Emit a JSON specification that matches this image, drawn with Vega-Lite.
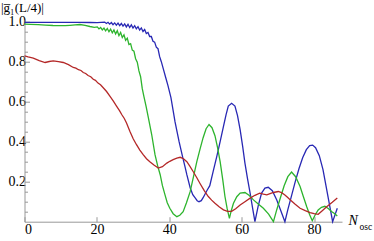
{
"$schema":"https://vega.github.io/schema/vega-lite/v6.json",
"width":317.5,"height":202,"autosize":"none",
"padding":{"left":24.5,"top":19.7,"right":32,"bottom":19.3},
"config":{"view":{"stroke":null},"font":"Liberation Serif"},
"datasets":{
"b":[{"x":0,"y":0.997},{"x":4.8,"y":0.997},{"x":9.9,"y":0.997},{"x":15,"y":0.997},{"x":18.1,"y":0.996},{"x":20.1,"y":0.995},{"x":22.15,"y":0.998},{"x":22.61,"y":0.991},{"x":23.07,"y":0.997},{"x":23.53,"y":0.988},{"x":23.99,"y":0.996},{"x":24.45,"y":0.985},{"x":24.91,"y":0.994},{"x":25.37,"y":0.983},{"x":25.83,"y":0.993},{"x":26.29,"y":0.980},{"x":26.75,"y":0.991},{"x":27.21,"y":0.978},{"x":27.67,"y":0.989},{"x":28.13,"y":0.974},{"x":28.59,"y":0.987},{"x":29.05,"y":0.971},{"x":29.51,"y":0.984},{"x":29.97,"y":0.968},{"x":30.43,"y":0.980},{"x":30.89,"y":0.964},{"x":31.35,"y":0.975},{"x":31.81,"y":0.958},{"x":32.27,"y":0.969},{"x":32.73,"y":0.951},{"x":33.19,"y":0.961},{"x":33.65,"y":0.941},{"x":34.11,"y":0.946},{"x":34.57,"y":0.926},{"x":35.03,"y":0.926},{"x":35.49,"y":0.902},{"x":35.95,"y":0.898},{"x":36.41,"y":0.873},{"x":36.87,"y":0.865},{"x":37.33,"y":0.825},{"x":37.79,"y":0.80},{"x":38.4,"y":0.76},{"x":39.02,"y":0.72},{"x":39.63,"y":0.68},{"x":40.45,"y":0.62},{"x":41.06,"y":0.555},{"x":41.57,"y":0.50},{"x":42.19,"y":0.445},{"x":42.7,"y":0.40},{"x":43.21,"y":0.36},{"x":43.72,"y":0.32},{"x":44.33,"y":0.275},{"x":44.84,"y":0.235},{"x":45.76,"y":0.17},{"x":46.48,"y":0.135},{"x":47.09,"y":0.12},{"x":47.7,"y":0.105},{"x":48.2,"y":0.10},{"x":48.83,"y":0.105},{"x":49.34,"y":0.12},{"x":50.36,"y":0.155},{"x":51.18,"y":0.18},{"x":52.1,"y":0.25},{"x":53.12,"y":0.327},{"x":54.04,"y":0.40},{"x":54.96,"y":0.477},{"x":55.68,"y":0.535},{"x":56.29,"y":0.578},{"x":57.21,"y":0.592},{"x":58.13,"y":0.578},{"x":58.84,"y":0.53},{"x":59.56,"y":0.46},{"x":60.27,"y":0.375},{"x":60.89,"y":0.293},{"x":61.6,"y":0.215},{"x":62.32,"y":0.143},{"x":63.03,"y":0.065},{"x":63.65,"y":0},{"x":64.57,"y":0.08},{"x":65.49,"y":0.143},{"x":66.41,"y":0.168},{"x":67.33,"y":0.172},{"x":68.45,"y":0.155},{"x":69.68,"y":0.109},{"x":70.8,"y":0.055},{"x":71.93,"y":0},{"x":72.74,"y":0.06},{"x":73.77,"y":0.13},{"x":74.79,"y":0.2},{"x":75.81,"y":0.265},{"x":76.83,"y":0.32},{"x":77.85,"y":0.36},{"x":78.77,"y":0.38},{"x":79.59,"y":0.383},{"x":80.4,"y":0.37},{"x":81.43,"y":0.33},{"x":82.45,"y":0.26},{"x":83.27,"y":0.18},{"x":84.19,"y":0.09},{"x":85.11,"y":0},{"x":86.4,"y":0.067}],
"g":[{"x":0,"y":0.988},{"x":1.7,"y":0.987},{"x":3.76,"y":0.985},{"x":5.8,"y":0.983},{"x":7.85,"y":0.981},{"x":9.79,"y":0.98},{"x":11.22,"y":0.98},{"x":12.55,"y":0.982},{"x":13.98,"y":0.984},{"x":15.31,"y":0.986},{"x":16.74,"y":0.982},{"x":18.07,"y":0.976},{"x":19.29,"y":0.972},{"x":20.11,"y":0.974},{"x":20.57,"y":0.964},{"x":21.03,"y":0.971},{"x":21.49,"y":0.959},{"x":21.95,"y":0.968},{"x":22.41,"y":0.954},{"x":22.87,"y":0.966},{"x":23.33,"y":0.950},{"x":23.79,"y":0.963},{"x":24.25,"y":0.944},{"x":24.71,"y":0.959},{"x":25.17,"y":0.939},{"x":25.63,"y":0.955},{"x":26.09,"y":0.930},{"x":26.55,"y":0.946},{"x":27.01,"y":0.921},{"x":27.47,"y":0.934},{"x":27.93,"y":0.907},{"x":28.39,"y":0.918},{"x":28.85,"y":0.886},{"x":29.31,"y":0.890},{"x":29.77,"y":0.858},{"x":30.23,"y":0.853},{"x":30.69,"y":0.815},{"x":31.15,"y":0.798},{"x":31.61,"y":0.754},{"x":32.07,"y":0.725},{"x":32.53,"y":0.665},{"x":32.99,"y":0.625},{"x":33.6,"y":0.575},{"x":34.21,"y":0.52},{"x":35.13,"y":0.436},{"x":36.05,"y":0.335},{"x":36.77,"y":0.28},{"x":37.48,"y":0.235},{"x":38.1,"y":0.18},{"x":38.81,"y":0.134},{"x":39.43,"y":0.095},{"x":40.14,"y":0.067},{"x":41.06,"y":0.04},{"x":42.08,"y":0.025},{"x":42.9,"y":0.032},{"x":43.82,"y":0.05},{"x":44.74,"y":0.095},{"x":45.76,"y":0.15},{"x":46.68,"y":0.225},{"x":47.6,"y":0.30},{"x":48.52,"y":0.365},{"x":49.34,"y":0.42},{"x":50.16,"y":0.465},{"x":50.97,"y":0.486},{"x":51.79,"y":0.47},{"x":52.61,"y":0.43},{"x":53.33,"y":0.37},{"x":54.04,"y":0.30},{"x":54.76,"y":0.21},{"x":55.37,"y":0.126},{"x":55.98,"y":0.065},{"x":56.6,"y":0.017},{"x":57.11,"y":0.055},{"x":57.72,"y":0.092},{"x":58.64,"y":0.125},{"x":59.56,"y":0.143},{"x":60.89,"y":0.146},{"x":62.01,"y":0.132},{"x":63.24,"y":0.109},{"x":64.57,"y":0.088},{"x":65.98,"y":0.067},{"x":67.43,"y":0.038},{"x":68.76,"y":0},{"x":69.68,"y":0.06},{"x":70.6,"y":0.115},{"x":71.72,"y":0.18},{"x":72.74,"y":0.225},{"x":73.77,"y":0.248},{"x":74.89,"y":0.225},{"x":76.12,"y":0.176},{"x":77.04,"y":0.125},{"x":77.96,"y":0.075},{"x":78.77,"y":0.035},{"x":79.49,"y":0.005},{"x":80.31,"y":0.035},{"x":81.12,"y":0.059},{"x":82.04,"y":0.072},{"x":82.96,"y":0.077},{"x":83.98,"y":0.065},{"x":84.9,"y":0.05},{"x":85.72,"y":0.04},{"x":86.4,"y":0.029}],
"r":[{"x":0,"y":0.829},{"x":1.0,"y":0.824},{"x":2.43,"y":0.818},{"x":4.06,"y":0.805},{"x":5.7,"y":0.796},{"x":6.82,"y":0.801},{"x":7.95,"y":0.804},{"x":9.38,"y":0.80},{"x":10.71,"y":0.796},{"x":12.14,"y":0.785},{"x":13.47,"y":0.771},{"x":14.2,"y":0.768},{"x":14.9,"y":0.76},{"x":15.6,"y":0.756},{"x":16.23,"y":0.746},{"x":16.9,"y":0.741},{"x":17.56,"y":0.731},{"x":18.3,"y":0.725},{"x":18.99,"y":0.712},{"x":19.6,"y":0.707},{"x":20.31,"y":0.693},{"x":21.0,"y":0.685},{"x":21.75,"y":0.67},{"x":22.67,"y":0.651},{"x":23.58,"y":0.628},{"x":24.5,"y":0.604},{"x":25.42,"y":0.578},{"x":26.24,"y":0.555},{"x":26.85,"y":0.536},{"x":27.57,"y":0.516},{"x":28.18,"y":0.494},{"x":29.1,"y":0.452},{"x":30.02,"y":0.415},{"x":30.94,"y":0.385},{"x":31.86,"y":0.358},{"x":32.78,"y":0.335},{"x":33.7,"y":0.315},{"x":34.62,"y":0.30},{"x":35.75,"y":0.283},{"x":36.97,"y":0.268},{"x":38.1,"y":0.275},{"x":39.32,"y":0.293},{"x":40.14,"y":0.302},{"x":41.06,"y":0.31},{"x":42.08,"y":0.318},{"x":43.0,"y":0.322},{"x":43.92,"y":0.315},{"x":44.84,"y":0.30},{"x":45.66,"y":0.278},{"x":46.58,"y":0.251},{"x":47.6,"y":0.22},{"x":48.52,"y":0.19},{"x":49.65,"y":0.155},{"x":50.77,"y":0.126},{"x":51.69,"y":0.108},{"x":52.61,"y":0.092},{"x":53.84,"y":0.073},{"x":54.96,"y":0.059},{"x":56.08,"y":0.052},{"x":57.21,"y":0.052},{"x":58.33,"y":0.065},{"x":59.56,"y":0.084},{"x":60.89,"y":0.10},{"x":62.32,"y":0.118},{"x":63.65,"y":0.132},{"x":64.98,"y":0.143},{"x":66.0,"y":0.138},{"x":66.92,"y":0.134},{"x":67.84,"y":0.14},{"x":68.76,"y":0.146},{"x":70.09,"y":0.151},{"x":71.01,"y":0.145},{"x":71.93,"y":0.134},{"x":72.64,"y":0.122},{"x":73.36,"y":0.11},{"x":74.69,"y":0.088},{"x":76.12,"y":0.067},{"x":77.55,"y":0.055},{"x":78.88,"y":0.045},{"x":80.0,"y":0.04},{"x":81.12,"y":0.037},{"x":82.25,"y":0.055},{"x":83.47,"y":0.075},{"x":85.01,"y":0.097},{"x":86.4,"y":0.118}]
},
"layer":[
{"data":{"name":"b"},
 "mark":{"type":"line","color":"#2828b4","strokeWidth":1.3},
 "encoding":{
  "x":{"field":"x","type":"quantitative","scale":{"domain":[0,87.7],"nice":false,"zero":false},
   "axis":{"values":[0,5,10,15,20,25,30,35,40,45,50,55,60,65,70,75,80,85],
    "labelExpr":"datum.value % 20 === 0 ? datum.label : ''",
    "tickSize":{"condition":{"test":"datum.value % 20 === 0","value":-5},"value":-3},
    "grid":false,"domainColor":"#999999","tickColor":"#999999","labelColor":"#000000","labelFontSize":14,"labelPadding":6,"labelFont":"Liberation Serif",
    "title":"N","titleFontStyle":"italic","titleFontWeight":"normal","titleFontSize":14,"titleColor":"#000000","titleFont":"Liberation Serif",
    "titleAlign":"left","titleBaseline":"alphabetic","titleAngle":0,"titleX":323.5,"titleY":3}},
  "y":{"field":"y","type":"quantitative","scale":{"domain":[0,1.01],"nice":false,"zero":false},
   "axis":{"values":[0.05,0.1,0.15,0.2,0.25,0.3,0.35,0.4,0.45,0.5,0.55,0.6,0.65,0.7,0.75,0.8,0.85,0.9,0.95,1.0],
    "labelExpr":"abs(datum.value*5 - round(datum.value*5)) < 0.000001 ? format(datum.value, '.1f') : ''",
    "tickSize":{"condition":{"test":"abs(datum.value*5 - round(datum.value*5)) < 0.000001","value":-5},"value":-3},
    "grid":false,"domainColor":"#999999","tickColor":"#999999","labelColor":"#000000","labelFontSize":14,"labelPadding":4,"labelFont":"Liberation Serif",
    "title":"|g̅₁(L/4)|","titleFontWeight":"normal","titleFontSize":13,"titleColor":"#000000","titleFont":"Liberation Serif",
    "titleAlign":"left","titleBaseline":"alphabetic","titleAngle":0,"titleX":-24,"titleY":-8}}}},
{"data":{"name":"g"},
 "mark":{"type":"line","color":"#2db42d","strokeWidth":1.3},
 "encoding":{"x":{"field":"x","type":"quantitative"},"y":{"field":"y","type":"quantitative","axis":null}}},
{"data":{"name":"r"},
 "mark":{"type":"line","color":"#b42828","strokeWidth":1.3},
 "encoding":{"x":{"field":"x","type":"quantitative"},
  "y":{"field":"y","type":"quantitative","axis":{"orient":"left","domain":false,"ticks":false,"labels":false,"grid":false,
   "title":"osc","titleFontWeight":"normal","titleFontSize":9.5,"titleColor":"#000000","titleFont":"Liberation Serif",
   "titleAlign":"left","titleBaseline":"alphabetic","titleAngle":0,"titleX":334.5,"titleY":210}}}}
],
"resolve":{"axis":{"y":"independent"}}
}
